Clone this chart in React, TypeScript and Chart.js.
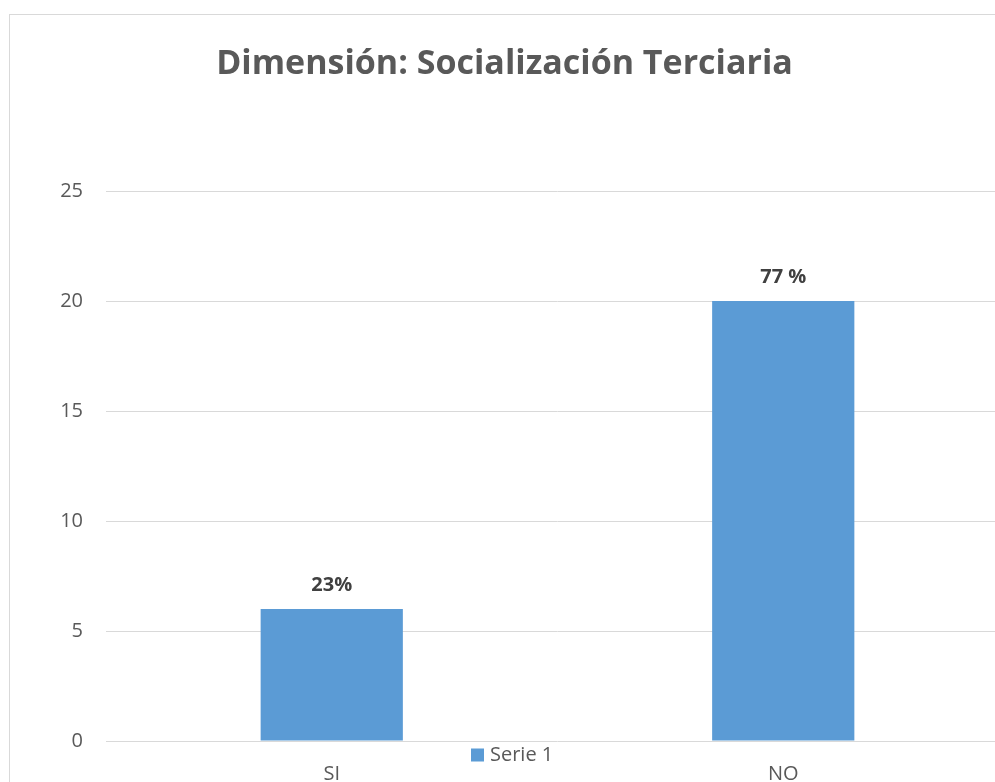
import React, { useEffect, useRef } from "react";
import { Chart, registerables } from "chart.js";

Chart.register(...registerables);

const TITLE = "Dimensión: Socialización Terciaria";
const CATEGORIES = ["SI", "NO"];
const SERIES_LABEL = "Serie 1";
const SERIES_VALUES = [6, 20];
const VALUE_LABELS = ["23%", "77 %"];
const Y_MIN = 0;
const Y_MAX = 25;
const Y_STEP = 5;

const FONT = "'Open Sans', 'DejaVu Sans', sans-serif";
const BAR_COLOR = "#5b9bd5";
const GRID_COLOR = "#d9d9d9";
const TEXT_COLOR = "#595959";
const LABEL_COLOR = "#404040";

const CANVAS_W = 1040;
const CANVAS_H = 800;

const overlayPlugin = {
  id: "overlay",
  afterDatasetsDraw(chart: any) {
    const ctx = chart.ctx;
    const meta = chart.getDatasetMeta(0);
    ctx.save();
    ctx.font = `bold 20px ${FONT}`;
    ctx.fillStyle = LABEL_COLOR;
    ctx.textAlign = "center";
    ctx.textBaseline = "middle";
    meta.data.forEach((bar: any, i: number) => {
      ctx.fillText(VALUE_LABELS[i], bar.x, bar.y - 24);
    });
    // legend
    const area = chart.chartArea;
    const lx = area.left + 365;
    const ly = area.bottom + 14;
    ctx.fillStyle = chart.data.datasets[0].backgroundColor;
    ctx.fillRect(lx, ly - 6.5, 13, 13);
    ctx.font = `20px ${FONT}`;
    ctx.fillStyle = TEXT_COLOR;
    ctx.textAlign = "left";
    ctx.fillText(chart.data.datasets[0].label, lx + 19, ly);
    ctx.restore();
  },
};

export default function App() {
  const ref = useRef<HTMLCanvasElement | null>(null);

  useEffect(() => {
    if (!ref.current) return;
    const chart = new Chart(ref.current, {
      type: "bar",
      data: {
        labels: CATEGORIES,
        datasets: [
          {
            label: SERIES_LABEL,
            data: SERIES_VALUES,
            backgroundColor: BAR_COLOR,
            borderWidth: 0,
            barPercentage: 0.315,
            categoryPercentage: 1,
          },
        ],
      },
      options: {
        responsive: false,
        animation: false,
        devicePixelRatio: 1,
        layout: { padding: { left: 0, right: 31, top: 0, bottom: 0 } },
        plugins: {
          legend: { display: false },
          tooltip: { enabled: false },
          title: {
            display: true,
            text: TITLE,
            color: TEXT_COLOR,
            font: { family: FONT, size: 34, weight: "bold", lineHeight: 1.2 },
            padding: { top: 43.6, bottom: 106.6 },
          },
        },
        scales: {
          x: {
            grid: { display: false, drawTicks: false },
            border: { display: false },
            ticks: {
              color: TEXT_COLOR,
              font: { family: FONT, size: 20 },
              padding: 21,
            },
            afterFit: (s: any) => {
              s.height = 59;
            },
          },
          y: {
            min: Y_MIN,
            max: Y_MAX,
            ticks: {
              stepSize: Y_STEP,
              color: TEXT_COLOR,
              font: { family: FONT, size: 20 },
              padding: 23,
            },
            grid: { color: GRID_COLOR, lineWidth: 1, drawTicks: false },
            border: { display: false },
            afterFit: (s: any) => {
              s.width = 106;
            },
          },
        },
      },
      plugins: [overlayPlugin],
    });
    return () => chart.destroy();
  }, []);

  return (
    <div
      style={{
        position: "fixed",
        left: 0,
        top: 0,
        width: 995,
        height: 782,
        overflow: "hidden",
        background: "#fff",
      }}
    >
      <div
        style={{
          position: "absolute",
          left: 9,
          top: 14,
          width: 1100,
          height: 900,
          border: `1px solid ${GRID_COLOR}`,
          boxSizing: "border-box",
        }}
      />
      <canvas
        ref={ref}
        width={CANVAS_W}
        height={CANVAS_H}
        style={{ position: "absolute", left: 0, top: 0, width: CANVAS_W, height: CANVAS_H }}
      />
    </div>
  );
}
